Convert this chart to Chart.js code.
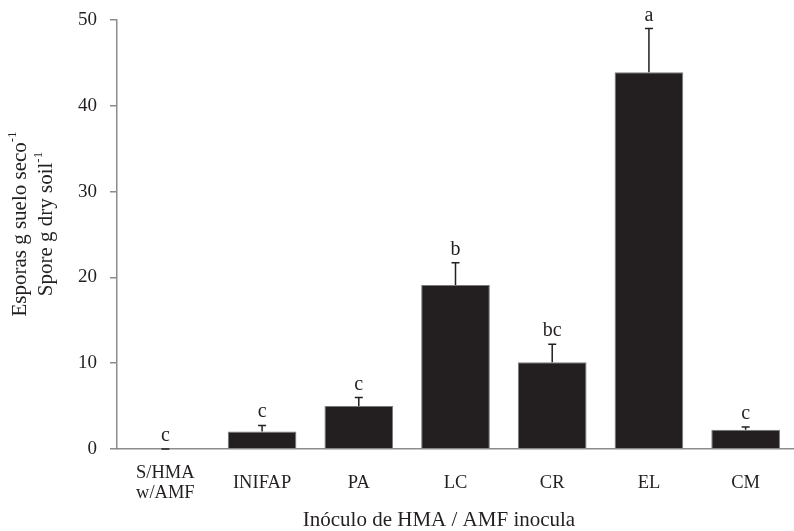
<!DOCTYPE html>
<html>
<head>
<meta charset="utf-8">
<script src="https://cdn.jsdelivr.net/npm/chart.js@4"></script>
<style>
  body { margin: 0; background: #fff; }
  #wrap { width: 794px; height: 531px; }
</style>
</head>
<body>
<div id="wrap"><canvas id="sporeChart"></canvas></div>
<script>
let categories = [["S/HMA", "w/AMF"], "INIFAP", "PA", "LC", "CR", "EL", "CM"];
let spores = [0, 2.05, 5.0, 19.1, 10.1, 43.9, 2.25];
let sporeErr = [0, 0.7, 1.0, 2.6, 2.1, 5.1, 0.3];
let letters = ["c", "c", "c", "b", "bc", "a", "c"];
let yTicks = [0, 10, 20, 30, 40, 50];

let serif = "'Liberation Serif', 'Times New Roman', serif";
let ink = "#231f20";
let axisGray = "#8c8c8c";

// text with a small raised "-1", centred on (cx, cy)
function drawWithSup(ctx, text, sup, cx, cy) {
  ctx.font = "21px " + serif;
  let w1 = ctx.measureText(text).width;
  ctx.font = "13px " + serif;
  let w2 = ctx.measureText(sup).width;
  let left = cx - (w1 + w2) / 2;
  ctx.textAlign = "left";
  ctx.font = "21px " + serif;
  ctx.fillText(text, left, cy);
  ctx.font = "13px " + serif;
  ctx.fillText(sup, left + w1, cy - 7);
}

// error bars + significance letters + axis titles
let extras = {
  id: "extras",
  afterDatasetsDraw(chart) {
    let ctx = chart.ctx;
    let x = chart.scales.x;
    let y = chart.scales.y;
    ctx.save();
    ctx.strokeStyle = ink;
    ctx.lineWidth = 1.5;
    ctx.fillStyle = ink;
    ctx.font = "20px " + serif;
    ctx.textAlign = "center";
    ctx.textBaseline = "alphabetic";
    spores.forEach((v, i) => {
      let px = x.getPixelForValue(i);
      let base = y.getPixelForValue(v);
      let top = y.getPixelForValue(v + sporeErr[i]);
      ctx.beginPath();
      ctx.moveTo(px, base);
      ctx.lineTo(px, top);
      ctx.moveTo(px - 4, top);
      ctx.lineTo(px + 4, top);
      ctx.stroke();
      ctx.fillText(letters[i], px, top - 8);
    });

    // axis titles
    ctx.font = "21px " + serif;
    ctx.textBaseline = "middle";
    ctx.fillText("Inóculo de HMA / AMF inocula", 439, 520);
    ctx.translate(20, 224);
    ctx.rotate(-Math.PI / 2);
    drawWithSup(ctx, "Esporas g suelo seco", "-1", 0, 0);
    drawWithSup(ctx, "Spore g dry soil", "-1", 0, 26);
    ctx.restore();
  }
};

let sporeChart = new Chart(document.getElementById("sporeChart"), {
  type: "bar",
  data: {
    labels: categories,
    datasets: [
      {
        label: "Esporas",
        data: spores,
        backgroundColor: ink,
        borderColor: "#7a7a7a",
        borderWidth: 1,
        barPercentage: 0.71,
        categoryPercentage: 1,
      },
    ],
  },
  options: {
    responsive: true,
    maintainAspectRatio: false,
    animation: false,
    layout: {
      padding: { left: 0, right: -12, top: 20, bottom: 0 },
    },
    plugins: {
      legend: { display: false },
      tooltip: { enabled: false },
    },
    scales: {
      x: {
        grid: { display: false },
        border: { color: axisGray, width: 1.5 },
        ticks: {
          color: ink,
          padding: 16,
          crossAlign: "center",
          font: { family: serif, size: 18.5, lineHeight: 1.1 },
          maxRotation: 0,
          autoSkip: false,
        },
        afterFit(scale) {
          scale.height = 82;
        },
      },
      y: {
        min: 0,
        max: 50,
        afterBuildTicks(scale) {
          scale.ticks = yTicks.map((v) => ({ value: v }));
        },
        grid: {
          drawOnChartArea: false,
          drawTicks: true,
          tickLength: 7,
          color: axisGray,
          lineWidth: 1.5,
        },
        border: { color: axisGray, width: 1.5 },
        ticks: {
          color: ink,
          padding: 13,
          font: { family: serif, size: 19 },
        },
        afterFit(scale) {
          scale.width = 117;
          scale.paddingTop = 0;
          scale.paddingBottom = 0;
        },
      },
    },
  },
  plugins: [extras],
});
</script>
</body>
</html>
